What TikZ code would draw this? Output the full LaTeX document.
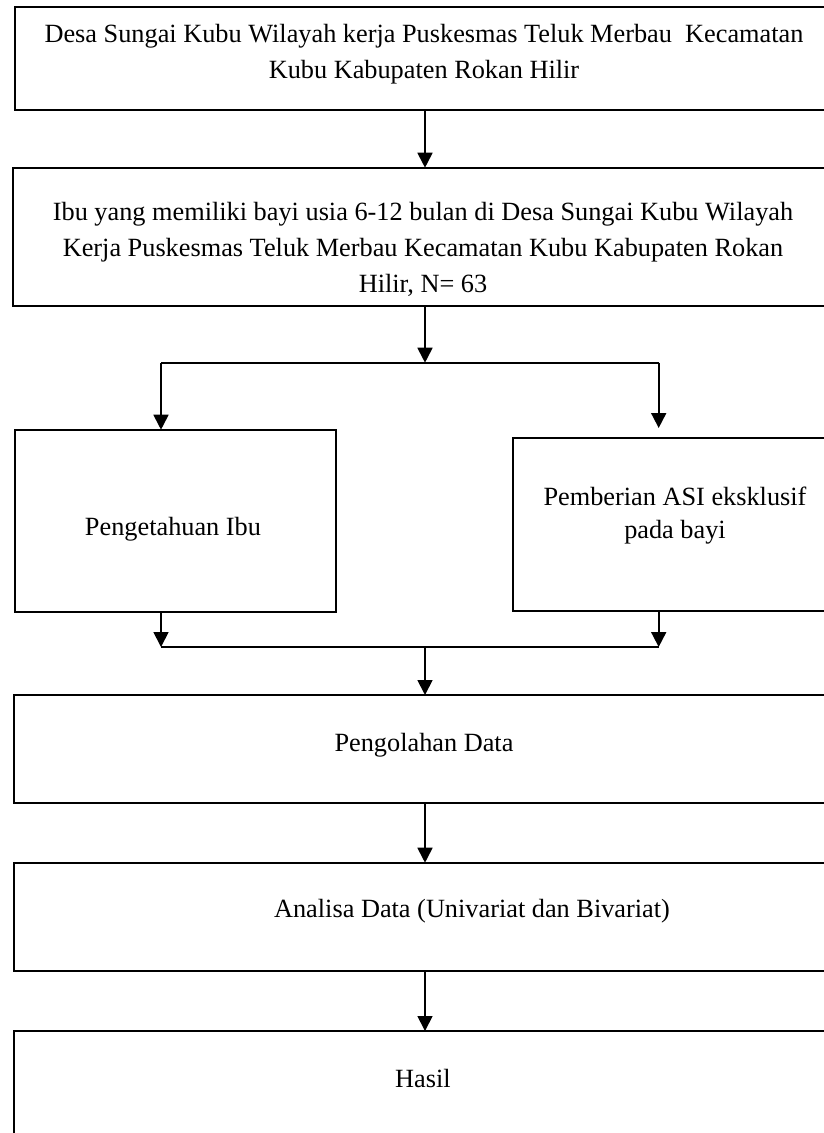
\documentclass[tikz,border=0pt]{standalone}
\usepackage{fontspec}
\setmainfont{Liberation Serif}
\usetikzlibrary{arrows.meta}
\begin{document}
\begin{tikzpicture}[x=1pt,y=-1pt,
  box/.style={draw, line width=1.7pt, inner sep=0pt, outer sep=0pt, anchor=north west},
  txt/.style={font=\fontsize{26.3}{36}\selectfont, align=center, inner sep=0pt, outer sep=0pt, anchor=north},
  conn/.style={line width=1.8pt},
  arr/.style={conn, -{Triangle[width=15pt,length=15pt]}}]
\useasboundingbox (0,0) rectangle (824,1133);
\clip (0,0) rectangle (824,1133);
% boxes
\node[box, minimum width=830pt, minimum height=102.7pt] (b1) at (14.7,7.3) {};
\node[box, minimum width=830pt, minimum height=138pt] (b2) at (13.3,167.7) {};
\node[box, minimum width=321pt, minimum height=182pt] (b3) at (14.7,429.7) {};
\node[box, minimum width=330pt, minimum height=173pt] (b4) at (512.7,438) {};
\node[box, minimum width=830pt, minimum height=108pt] (b5) at (14,695) {};
\node[box, minimum width=830pt, minimum height=108.3pt] (b6) at (14,862.7) {};
\node[box, minimum width=830pt, minimum height=120pt] (b7) at (14,1031) {};
% texts
\node[txt] (t1) at (424,22.5) {\rule{0pt}{20pt}Desa Sungai Kubu Wilayah kerja Puskesmas Teluk Merbau\ \ Kecamatan\\Kubu Kabupaten Rokan Hilir};
\node[txt] (t2) at (423,200) {\rule{0pt}{20pt}Ibu yang memiliki bayi usia 6-12 bulan di Desa Sungai Kubu Wilayah\\Kerja Puskesmas Teluk Merbau Kecamatan Kubu Kabupaten Rokan\\Hilir, N= 63};
\node[txt] (t3) at (173,515) {\rule{0pt}{20pt}Pengetahuan Ibu};
\node[txt] (t4) at (675,485) {\rule{0pt}{20pt}Pemberian ASI eksklusif\\[-3pt]pada bayi};
\node[txt] (t5) at (424,731) {\rule{0pt}{20pt}Pengolahan Data};
\node[txt] (t6) at (472,897) {\rule{0pt}{20pt}Analisa Data (Univariat dan Bivariat)};
\node[txt] (t7) at (423,1067.5) {\rule{0pt}{20pt}Hasil};
% connector points
\coordinate (cx) at (425,0);
\coordinate (j1) at (425,362.7);
\coordinate (jl) at (161,362.7);
\coordinate (jr) at (658.7,362.7);
\coordinate (rt) at (658.7,428);
\coordinate (kl) at (161,647);
\coordinate (kr) at (658.7,647);
\coordinate (k1) at (425,647);
% connectors
\draw[arr] (b1.south -| cx) -- (b2.north -| cx);
\draw[arr] (b2.south -| cx) -- (j1);
\draw[conn] (jl) -- (jr);
\draw[arr] (jl) -- (b3.north -| jl);
\draw[arr] (jr) -- (rt);
\draw[arr] (b3.south -| kl) -- (kl);
\draw[arr] (b4.south -| kr) -- (kr);
\draw[conn] (kl) -- (kr);
\draw[arr] (k1) -- (b5.north -| k1);
\draw[arr] (b5.south -| cx) -- (b6.north -| cx);
\draw[arr] (b6.south -| cx) -- (b7.north -| cx);
\end{tikzpicture}
\end{document}
